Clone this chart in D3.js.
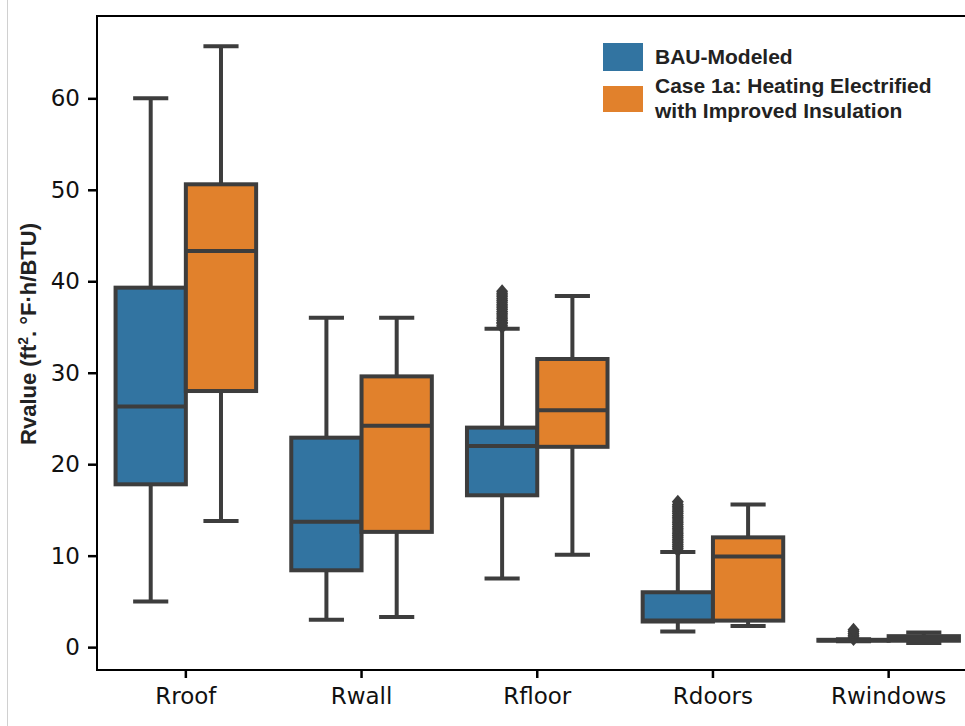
<!DOCTYPE html>
<html>
<head>
<meta charset="utf-8">
<script src="https://cdn.jsdelivr.net/npm/d3@7"></script>
<style>
  body { margin: 0; background: #fff; }
  svg { display: block; }
</style>
</head>
<body>
<div id="chart"></div>
<script>
// categories + groups
var categories = ["Rroof", "Rwall", "Rfloor", "Rdoors", "Rwindows"];
var groups = ["BAU-Modeled", "Case 1a: Heating Electrified|with Improved Insulation"];
var yTicks = [0, 10, 20, 30, 40, 50, 60];

// [low whisker, q1, median, q3, high whisker] per category
var bauBoxes = [
  [5.0, 17.8, 26.3, 39.3, 60.0],
  [3.0, 8.4, 13.7, 22.9, 36.0],
  [7.5, 16.6, 22.0, 24.0, 34.8],
  [1.7, 2.8, 2.9, 6.0, 10.4],
  [0.65, 0.7, 0.75, 0.8, 0.85]
];
var caseBoxes = [
  [13.8, 28.0, 43.3, 50.6, 65.7],
  [3.3, 12.6, 24.2, 29.6, 36.0],
  [10.1, 21.9, 25.9, 31.5, 38.4],
  [2.3, 2.9, 9.9, 12.0, 15.6],
  [0.45, 0.7, 1.0, 1.2, 1.6]
];
var bauOutliers = [
  [],
  [],
  [35.0, 35.2, 35.4, 35.5, 35.7, 35.9, 36.1, 36.3, 36.5, 36.7, 36.9, 37.1, 37.3,
   37.5, 37.7, 37.9, 38.1, 38.3, 38.5, 38.7, 38.9],
  [10.6, 10.8, 11.0, 11.2, 11.4, 11.6, 11.8, 12.0, 12.2, 12.4, 12.6, 12.8, 13.0,
   13.2, 13.4, 13.6, 13.8, 14.0, 14.2, 14.4, 14.6, 14.8, 15.0, 15.2, 15.4, 15.6, 15.9],
  [0.9, 1.1, 1.3, 1.5, 1.7, 1.9]
];
var caseOutliers = [[], [], [], [], []];

var colors = ["#3274a1", "#e1812c"];
var gray = "#3d3d3d";

var width = 965, height = 726;
var plotLeft = 98, plotTop = 16, plotBottom = 670;

var svg = d3.select("#chart").append("svg")
  .attr("width", width)
  .attr("height", height);

// faint border of the original picture
svg.append("line")
  .attr("x1", 7.5).attr("x2", 7.5).attr("y1", 0).attr("y2", height)
  .attr("stroke", "#d0d0d0").attr("stroke-width", 1);

/* scales */
var x = d3.scaleBand()
  .domain(categories)
  .range([plotLeft, plotLeft + 5 * 175.7]);

var xInner = d3.scaleBand()
  .domain(groups)
  .range([0, x.bandwidth()])
  .paddingOuter(0.25);

var y = d3.scaleLinear()
  .domain([-2.5, 69])
  .range([plotBottom, plotTop]);

/* boxes */
var series = [
  { key: groups[0], boxes: bauBoxes, outliers: bauOutliers, color: colors[0] },
  { key: groups[1], boxes: caseBoxes, outliers: caseOutliers, color: colors[1] }
];

var plot = svg.append("g");

series.forEach(function(s) {
  categories.forEach(function(c, i) {
    var b = s.boxes[i];
    var bx = x(c) + xInner(s.key);
    var bw = xInner.bandwidth();
    var cx = bx + bw / 2;
    var g = plot.append("g");

    // whiskers
    g.append("line")
      .attr("x1", cx).attr("x2", cx)
      .attr("y1", y(b[0])).attr("y2", y(b[1]))
      .attr("stroke", gray).attr("stroke-width", 4);
    g.append("line")
      .attr("x1", cx).attr("x2", cx)
      .attr("y1", y(b[3])).attr("y2", y(b[4]))
      .attr("stroke", gray).attr("stroke-width", 4);
    [b[0], b[4]].forEach(function(v) {
      g.append("line")
        .attr("x1", cx - bw / 4).attr("x2", cx + bw / 4)
        .attr("y1", y(v)).attr("y2", y(v))
        .attr("stroke", gray).attr("stroke-width", 4);
    });

    // box
    g.append("rect")
      .attr("x", bx)
      .attr("y", y(b[3]))
      .attr("width", bw)
      .attr("height", Math.max(0, y(b[1]) - y(b[3])))
      .attr("fill", s.color)
      .attr("stroke", gray)
      .attr("stroke-width", 4);

    // median
    g.append("line")
      .attr("x1", bx).attr("x2", bx + bw)
      .attr("y1", y(b[2])).attr("y2", y(b[2]))
      .attr("stroke", gray).attr("stroke-width", 4);

    // fliers (thin diamonds)
    g.selectAll("path.flier")
      .data(s.outliers[i]).enter()
      .append("path")
      .attr("class", "flier")
      .attr("d", function(v) {
        var py = y(v);
        return "M" + cx + "," + (py - 7) + "L" + (cx + 6) + "," + py +
          "L" + cx + "," + (py + 7) + "L" + (cx - 6) + "," + py + "Z";
      })
      .attr("fill", gray);
  });
});

/* spines */
svg.append("line")
  .attr("x1", plotLeft - 1).attr("x2", width).attr("y1", plotTop).attr("y2", plotTop)
  .attr("stroke", "#000").attr("stroke-width", 2);
svg.append("line")
  .attr("x1", plotLeft - 1).attr("x2", width).attr("y1", plotBottom).attr("y2", plotBottom)
  .attr("stroke", "#000").attr("stroke-width", 2);
svg.append("line")
  .attr("x1", plotLeft - 1).attr("x2", plotLeft - 1).attr("y1", plotTop - 1).attr("y2", plotBottom + 1)
  .attr("stroke", "#000").attr("stroke-width", 2);

/* axes */
var yAxis = d3.axisLeft(y).tickValues(yTicks).tickSize(9).tickPadding(8);
var gy = svg.append("g")
  .attr("transform", "translate(" + (plotLeft - 1) + ",0)")
  .call(yAxis);
gy.select(".domain").remove();
gy.selectAll(".tick line").attr("stroke", "#000").attr("stroke-width", 2.5);
gy.selectAll(".tick text")
  .attr("fill", "#111")
  .style("font-family", "DejaVu Sans")
  .style("font-size", "23px");

var xAxis = d3.axisBottom(x).tickSize(8).tickPadding(10);
var gx = svg.append("g")
  .attr("transform", "translate(0," + plotBottom + ")")
  .call(xAxis);
gx.select(".domain").remove();
gx.selectAll(".tick line").attr("stroke", "#000").attr("stroke-width", 2.5);
gx.selectAll(".tick text")
  .attr("fill", "#111")
  .style("font-family", "DejaVu Sans")
  .style("font-size", "23px");

/* y label */
var yl = svg.append("text")
  .attr("transform", "translate(36,334) rotate(-90)")
  .attr("text-anchor", "middle")
  .style("font-family", "Liberation Sans, Arial, sans-serif")
  .style("font-weight", "bold")
  .style("font-size", "22px")
  .attr("fill", "#222");
yl.append("tspan").text("Rvalue (ft");
yl.append("tspan").attr("baseline-shift", "super").style("font-size", "14px").text("2");
yl.append("tspan").text(". °F·h/BTU)");

/* legend */
var legend = svg.selectAll(".legend")
  .data(series).enter()
  .append("g")
  .attr("class", "legend")
  .attr("transform", function(d, i) {
    return "translate(603," + (i === 0 ? 43 : 86) + ")";
  });

legend.append("rect")
  .attr("width", 40)
  .attr("height", function(d, i) { return i === 0 ? 28 : 26; })
  .attr("fill", function(d) { return d.color; });

legend.each(function(d, i) {
  var lines = d.key.split("|");
  d3.select(this).selectAll("text")
    .data(lines).enter()
    .append("text")
    .attr("x", 52)
    .attr("y", function(t, j) { return (i === 0 ? 21 : 7) + j * 25; })
    .style("font-family", "Liberation Sans, Arial, sans-serif")
    .style("font-weight", "bold")
    .style("font-size", "21px")
    .attr("fill", "#222")
    .text(function(t) { return t; });
});
</script>
</body>
</html>
